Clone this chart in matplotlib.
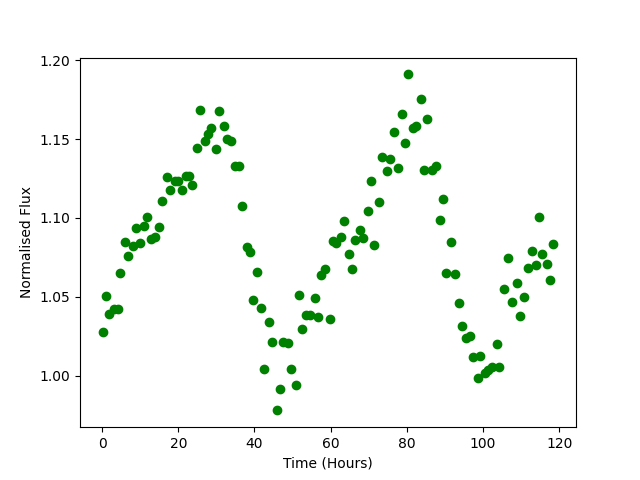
import matplotlib
matplotlib.use("Agg")
import matplotlib.pyplot as plt

# time (hours) and normalised flux
time_hours = [
    0.1, 0.9, 1.9, 3.0, 4.2, 4.8, 5.9, 6.9, 8.0, 9.0,
    9.9, 10.9, 11.9, 12.9, 14.0, 14.8, 15.8, 16.9, 17.9, 19.0,
    19.9, 20.9, 22.0, 22.9, 23.7, 24.8, 25.8, 26.9, 27.8, 28.7,
    29.8, 30.8, 31.9, 32.9, 33.8, 34.9, 35.9, 36.8, 37.9, 38.7,
    39.7, 40.7, 41.8, 42.6, 43.7, 44.7, 45.8, 46.8, 47.5, 48.8,
    49.7, 50.8, 51.8, 52.6, 53.5, 54.5, 55.9, 56.8, 57.5, 58.6,
    59.7, 60.6, 61.5, 62.6, 63.6, 64.7, 65.7, 66.5, 67.6, 68.6,
    69.7, 70.7, 71.5, 72.6, 73.6, 74.7, 75.7, 76.5, 77.7, 78.6,
    79.6, 80.4, 81.5, 82.5, 83.6, 84.6, 85.4, 86.5, 87.6, 88.6,
    89.6, 90.3, 91.5, 92.6, 93.6, 94.6, 95.5, 96.6, 97.5, 98.6,
    99.3, 100.4, 101.3, 102.4, 103.6, 104.3, 105.6, 106.6, 107.7, 108.8,
    109.6, 110.7, 111.7, 112.8, 113.8, 114.6, 115.6, 116.7, 117.7, 118.5,
]
flux = [
    1.028, 1.0505, 1.039, 1.042, 1.042, 1.065, 1.0846, 1.076, 1.082, 1.0935,
    1.084, 1.0947, 1.1004, 1.0865, 1.088, 1.094, 1.1105, 1.1258, 1.1175, 1.1234,
    1.1234, 1.118, 1.1264, 1.1264, 1.1207, 1.1446, 1.1687, 1.149, 1.153, 1.157,
    1.1434, 1.168, 1.158, 1.150, 1.149, 1.1329, 1.1329, 1.1074, 1.0815, 1.0787,
    1.048, 1.066, 1.0427, 1.0044, 1.034, 1.0215, 0.978, 0.9918, 1.0215, 1.0207,
    1.0044, 0.9943, 1.051, 1.0296, 1.0384, 1.0384, 1.049, 1.0375, 1.0637, 1.0677,
    1.0359, 1.0853, 1.0844, 1.0878, 1.0979, 1.077, 1.0675, 1.0859, 1.0924, 1.0871,
    1.1042, 1.1232, 1.0827, 1.1099, 1.1384, 1.1296, 1.1372, 1.1548, 1.1314, 1.1662,
    1.1478, 1.191, 1.1573, 1.1586, 1.1757, 1.1301, 1.1625, 1.1301, 1.1329, 1.0985,
    1.1118, 1.065, 1.0846, 1.0646, 1.0462, 1.0316, 1.024, 1.0253, 1.0118, 0.9987,
    1.0124, 1.002, 1.0038, 1.0053, 1.02, 1.0055, 1.0549, 1.0745, 1.0466, 1.0587,
    1.0378, 1.0498, 1.0682, 1.079, 1.0703, 1.1005, 1.077, 1.0707, 1.0606, 1.0833,
]

fig = plt.figure(figsize=(6.4, 4.8), dpi=100)
plt.plot(time_hours, flux, 'o', color='green')
plt.xlabel('Time (Hours)')
plt.ylabel('Normalised Flux')
plt.savefig('out.png')
